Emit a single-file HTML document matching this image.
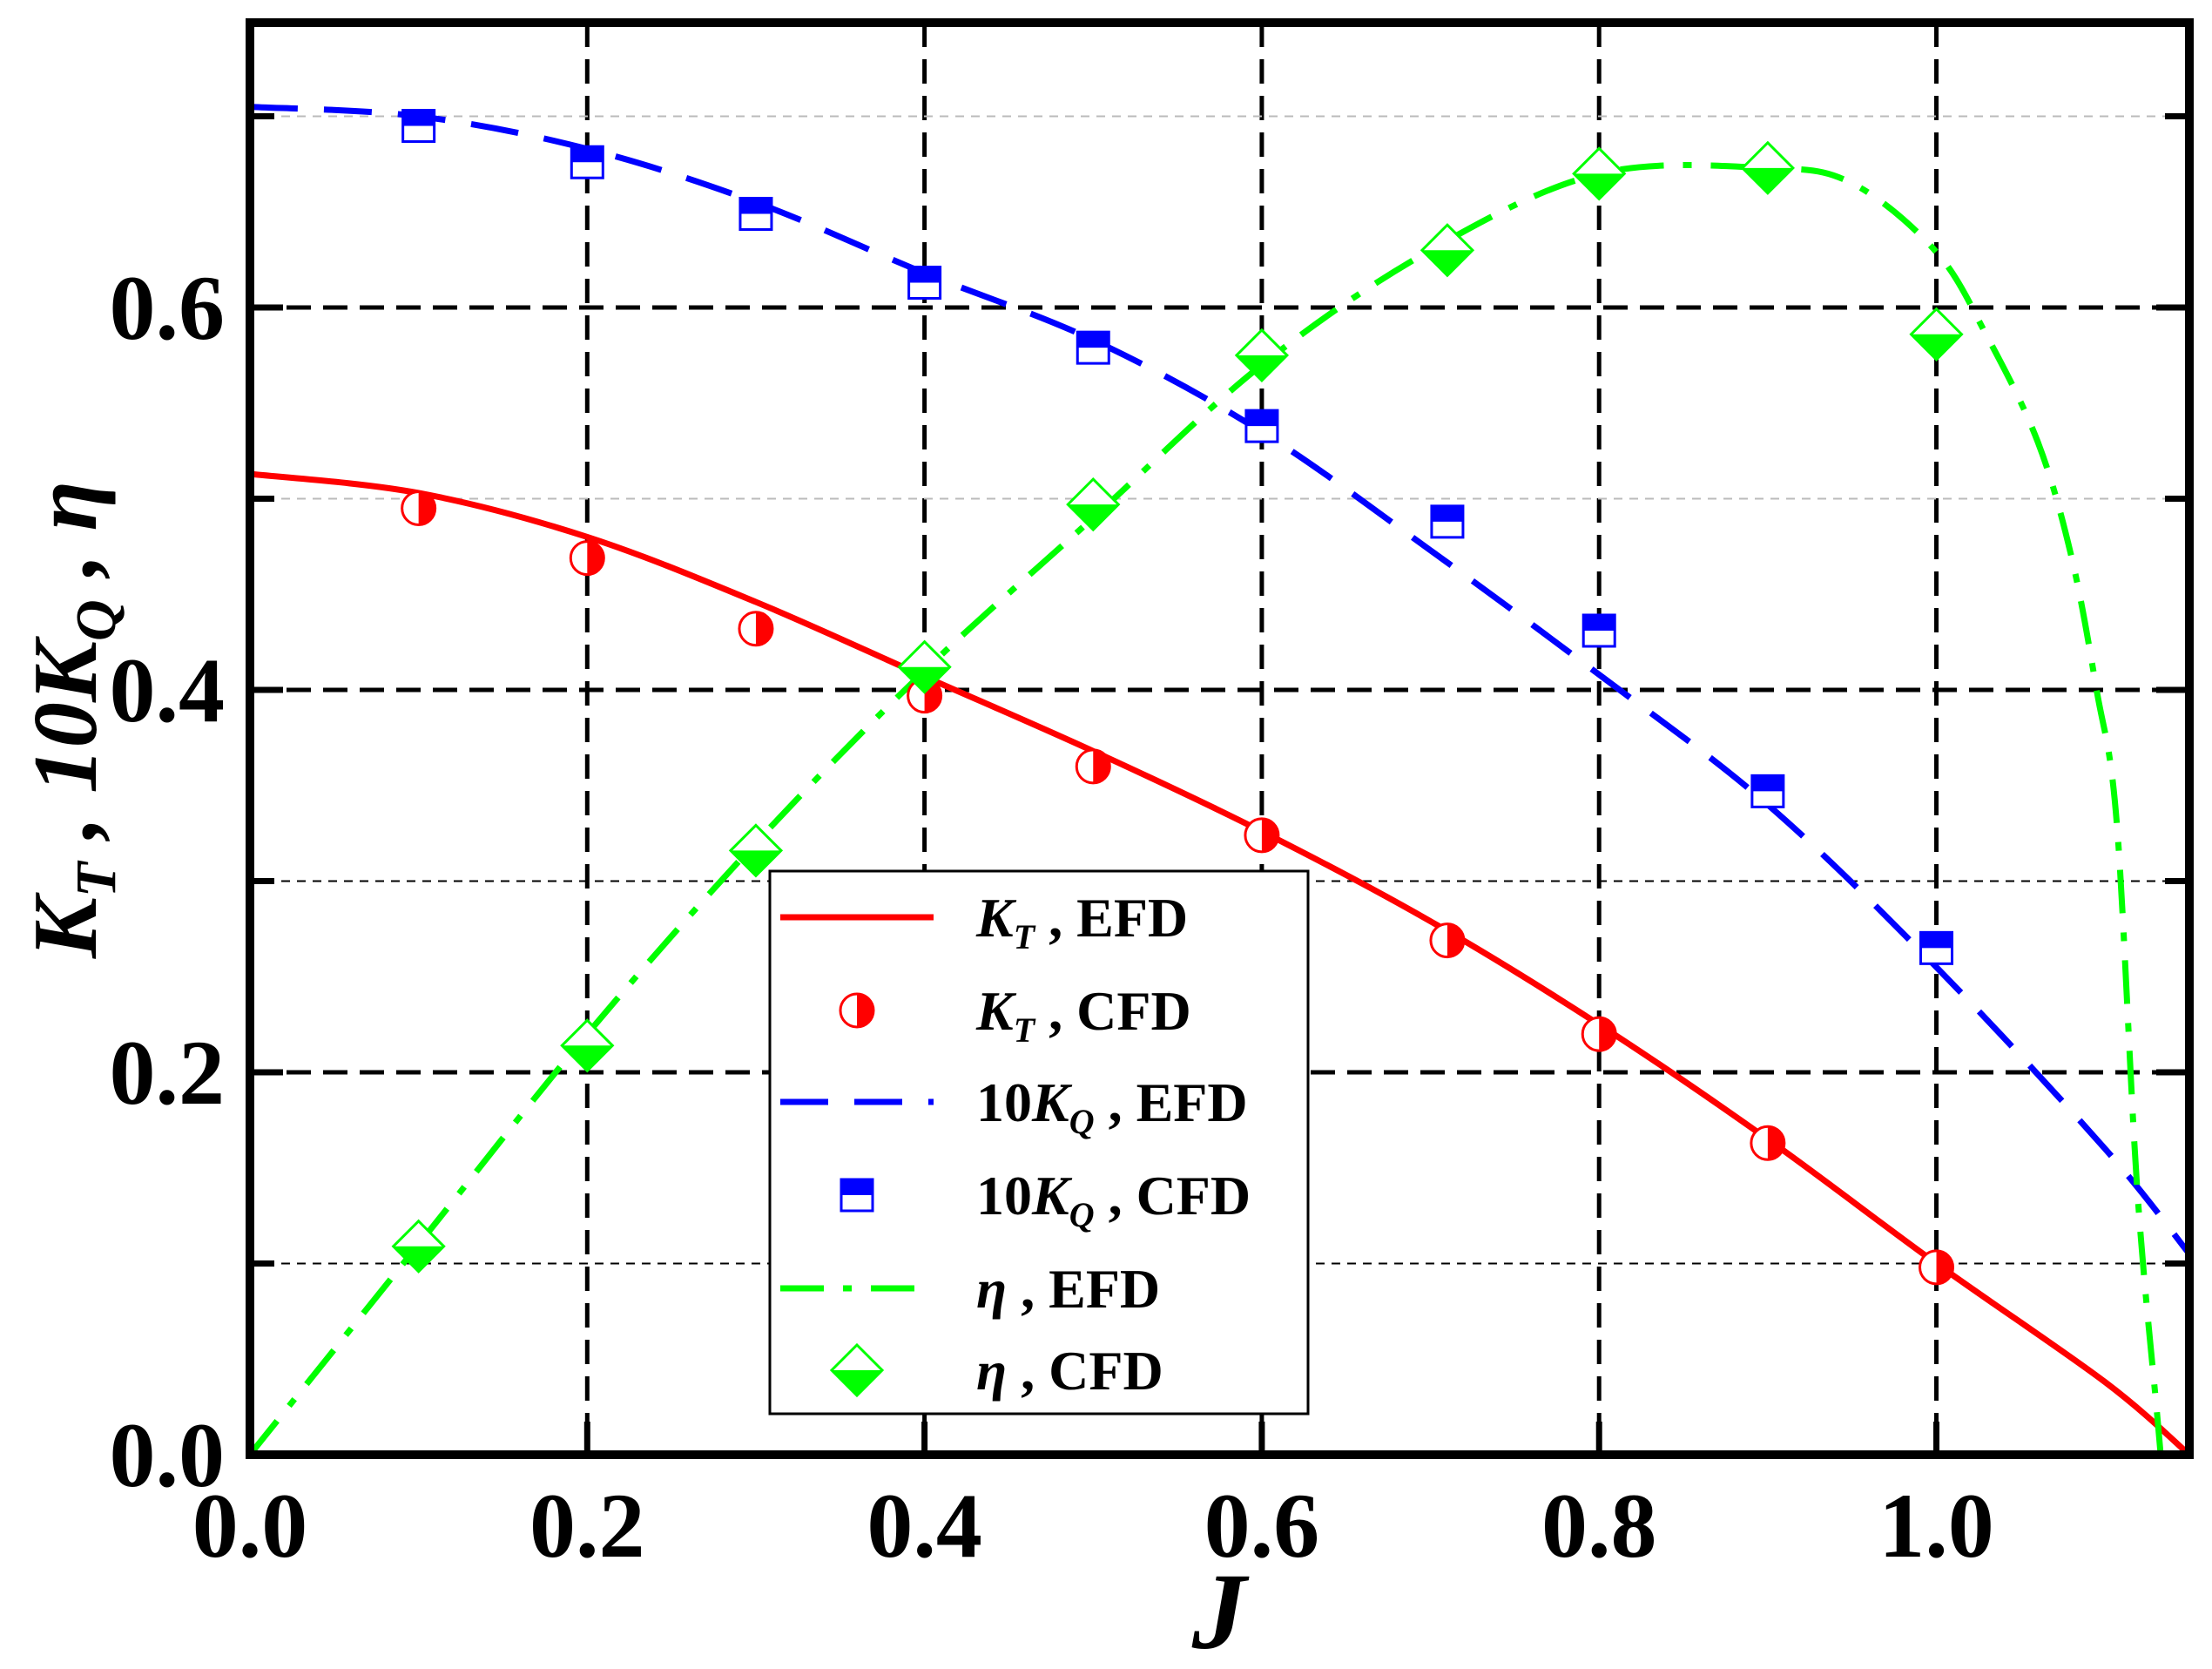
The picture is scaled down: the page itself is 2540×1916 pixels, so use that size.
<!DOCTYPE html>
<html><head><meta charset="utf-8"><style>
html,body{margin:0;padding:0;background:#fff}
svg{display:block}
text,tspan{font-family:"Liberation Serif","Times New Roman",Times,serif;font-weight:bold}
</style></head><body>
<svg id="chart" width="2540" height="1916" viewBox="0 0 2540 1916" xmlns="http://www.w3.org/2000/svg">
<g id="grid"></g>
<g id="series"></g>
<g id="frame"></g>
<g id="labels"></g>
<text x="1400" y="1892" font-family="Liberation Serif, serif" font-size="125" font-style="italic" text-anchor="middle">J</text>
<text transform="translate(110,826) rotate(-90)" font-family="Liberation Serif, serif" font-size="105" font-style="italic" text-anchor="middle">K<tspan font-size="66" dy="22">T</tspan><tspan dy="-22"> , 10K</tspan><tspan font-size="66" dy="22">Q</tspan><tspan dy="-22"> , η</tspan></text>
<g id="legend"></g>
</svg>
<script>
const xTicks=[0.0,0.2,0.4,0.6,0.8,1.0];
const xTickLabels=["0.0","0.2","0.4","0.6","0.8","1.0"];
const yTicks=[0.0,0.2,0.4,0.6];
const yTickLabels=["0.0","0.2","0.4","0.6"];
const yMinor=[0.1,0.3,0.5,0.7];
const ktEfdJ=[0,0.1,0.2,0.3,0.4,0.5,0.6,0.7,0.8,0.9,1.0,1.1,1.15];
const ktEfd=[0.513,0.503,0.48,0.446,0.407,0.368,0.326,0.279,0.225,0.165,0.10,0.038,0.0];
const ktCfdJ=[0.1,0.2,0.3,0.4,0.5,0.6,0.71,0.8,0.9,1.0];
const ktCfd=[0.495,0.469,0.432,0.397,0.360,0.324,0.269,0.220,0.163,0.098];
const kqEfdJ=[0,0.1,0.2,0.3,0.4,0.5,0.6,0.7,0.8,0.9,1.0,1.1,1.15];
const kqEfd=[0.705,0.700,0.683,0.655,0.618,0.583,0.535,0.473,0.408,0.34,0.255,0.16,0.105];
const kqCfdJ=[0.1,0.2,0.3,0.4,0.5,0.6,0.71,0.8,0.9,1.0];
const kqCfd=[0.695,0.676,0.649,0.613,0.579,0.538,0.488,0.431,0.347,0.265];
const etaEfdJ=[0,0.1,0.2,0.3,0.4,0.5,0.6,0.7,0.8,0.9,0.95,1.0,1.03,1.06,1.08,1.095,1.107,1.119,1.131,1.133];
const etaEfd=[0,0.11,0.22,0.32,0.41,0.49,0.57,0.63,0.67,0.673,0.665,0.629,0.585,0.53,0.47,0.40,0.33,0.14,0.02,0.0];
const etaCfdJ=[0.1,0.2,0.3,0.4,0.5,0.6,0.71,0.8,0.9,1.0];
const etaCfd=[0.109,0.214,0.316,0.412,0.497,0.575,0.63,0.670,0.673,0.586];

const NS="http://www.w3.org/2000/svg";
const L=287,R=2514,T=26,B=1670,XMAX=1.15,YMAX=0.749;
const xs=v=>L+v/XMAX*(R-L);
const ys=v=>B-v/YMAX*(B-T);
function mk(tag,attrs,parent){const e=document.createElementNS(NS,tag);for(const k in attrs)e.setAttribute(k,attrs[k]);parent.appendChild(e);return e;}
const grid=document.getElementById('grid'),series=document.getElementById('series'),frame=document.getElementById('frame'),labels=document.getElementById('labels'),legend=document.getElementById('legend');
const FF='Liberation Serif, Times New Roman, serif';

xTicks.forEach((v,i)=>{if(v>0){const l=mk('line',{x1:xs(v),x2:xs(v),y1:T,y2:B,stroke:'#000','stroke-width':5,'stroke-dasharray':'28 14'},grid);

}
const t=mk('text',{x:xs(v),y:1787,'font-size':106,'text-anchor':'middle','font-family':FF},labels);t.textContent=xTickLabels[i];


const tk=mk('line',{x1:xs(v),x2:xs(v),y1:B,y2:B-38,stroke:'#000','stroke-width':7},frame);

});
yTicks.forEach((v,i)=>{if(v>0){const l=mk('line',{x1:L,x2:R,y1:ys(v),y2:ys(v),stroke:'#000','stroke-width':5,'stroke-dasharray':'28 14'},grid);

}
const t=mk('text',{x:258,y:ys(v)+36,'font-size':106,'text-anchor':'end','font-family':FF},labels);t.textContent=yTickLabels[i];


[[L,L+38],[R,R-38]].forEach(p=>{const tk=mk('line',{x1:p[0],x2:p[1],y1:ys(v),y2:ys(v),stroke:'#000','stroke-width':7},frame);

});});
yMinor.forEach(v=>{const c=(v===0.5||v===0.7)?'#bbb':'#000';const l=mk('line',{x1:L,x2:R,y1:ys(v),y2:ys(v),stroke:c,'stroke-width':2,'stroke-dasharray':'10 8'},grid);


[[L,L+28],[R,R-28]].forEach(p=>{const tk=mk('line',{x1:p[0],x2:p[1],y1:ys(v),y2:ys(v),stroke:'#000','stroke-width':7},frame);

});});
const fr=mk('rect',{x:L,y:T,width:R-L,height:B-T,fill:'none',stroke:'#000','stroke-width':10},frame);



function path(J,V){const p=J.map((j,i)=>[xs(j),ys(V[i])]);let d='M'+p[0][0]+','+p[0][1];
for(let i=0;i<p.length-1;i++){const p0=p[Math.max(0,i-1)],p1=p[i],p2=p[i+1],p3=p[Math.min(p.length-1,i+2)];
d+=' C'+(p1[0]+(p2[0]-p0[0])/6)+','+(p1[1]+(p2[1]-p0[1])/6)+' '+(p2[0]-(p3[0]-p1[0])/6)+','+(p2[1]-(p3[1]-p1[1])/6)+' '+p2[0]+','+p2[1];}return d;}
const kt=mk('path',{d:path(ktEfdJ,ktEfd),fill:'none',stroke:'#f00','stroke-width':7},series);


const kq=mk('path',{d:path(kqEfdJ,kqEfd),fill:'none',stroke:'#00f','stroke-width':7,'stroke-dasharray':'55 30'},series);


const et=mk('path',{d:path(etaEfdJ,etaEfd),fill:'none',stroke:'#0f0','stroke-width':7,'stroke-dasharray':'50 22 10 22'},series);



function circ(g,x,y){const r=19;mk('circle',{cx:x,cy:y,r:r,fill:'#fff',stroke:'#f00','stroke-width':3},g);mk('path',{d:`M${x},${y-r} A${r},${r} 0 0 1 ${x},${y+r} Z`,fill:'#f00'},g);}
function sq(g,x,y){const s=18;mk('rect',{x:x-s,y:y-s,width:2*s,height:2*s,fill:'#fff',stroke:'#00f','stroke-width':3},g);mk('rect',{x:x-s,y:y-s,width:2*s,height:s,fill:'#00f'},g);}
function dia(g,x,y){const s=29;mk('path',{d:`M${x},${y-s} L${x+s},${y} L${x},${y+s} L${x-s},${y} Z`,fill:'#fff',stroke:'#0f0','stroke-width':3},g);mk('path',{d:`M${x-s},${y} L${x+s},${y} L${x},${y+s} Z`,fill:'#0f0'},g);}
ktCfdJ.forEach((j,i)=>{const g=mk('g',{},series);


circ(g,xs(j),ys(ktCfd[i]));});
kqCfdJ.forEach((j,i)=>{const g=mk('g',{},series);


sq(g,xs(j),ys(kqCfd[i]));});
etaCfdJ.forEach((j,i)=>{const g=mk('g',{},series);


dia(g,xs(j),ys(etaCfd[i]));});

const lb=mk('rect',{x:884,y:1000,width:618,height:623,fill:'#fff',stroke:'#000','stroke-width':3},legend);


const rows=[1053,1160,1265,1372,1479,1573];
const labs=[['K','T',' , EFD'],['K','T',' , CFD'],['10K','Q',' , EFD'],['10K','Q',' , CFD'],['η','',' , EFD'],['η','',' , CFD']];
rows.forEach((y,i)=>{const g=mk('g',{},legend);


if(i===0)mk('line',{x1:896,x2:1072,y1:y,y2:y,stroke:'#f00','stroke-width':7},g);
if(i===1)circ(g,984,y);
if(i===2)mk('line',{x1:896,x2:1072,y1:y,y2:y,stroke:'#00f','stroke-width':7,'stroke-dasharray':'55 30'},g);
if(i===3)sq(g,984,y);
if(i===4)mk('line',{x1:896,x2:1072,y1:y,y2:y,stroke:'#0f0','stroke-width':7,'stroke-dasharray':'50 22 10 22'},g);
if(i===5)dia(g,984,y);
const t=mk('text',{x:1121,y:y+22,'font-size':64,'font-family':FF},g);
const a=mk('tspan',{'font-style':(i<2||i>3)?'italic':'normal'},t);a.textContent=labs[i][0].startsWith('10')?'10':labs[i][0];
if(labs[i][0].startsWith('10')){const k=mk('tspan',{'font-style':'italic'},t);k.textContent='K';}
if(labs[i][1]){const s=mk('tspan',{'font-size':40,dy:14,'font-style':'italic'},t);s.textContent=labs[i][1];const r=mk('tspan',{dy:-14},t);r.textContent=labs[i][2];}
else{const r=mk('tspan',{},t);r.textContent=labs[i][2];}
});
</script>
</body></html>
